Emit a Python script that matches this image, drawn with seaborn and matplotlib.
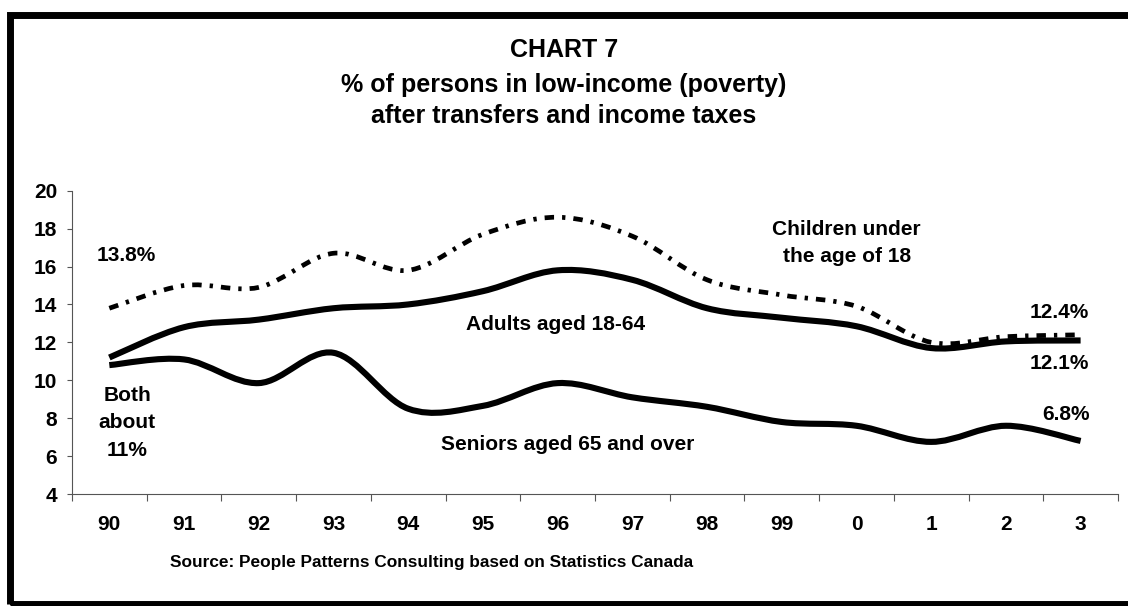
import numpy as np
import matplotlib
matplotlib.use("Agg")
import matplotlib.pyplot as plt
import seaborn as sns
from matplotlib.path import Path
from matplotlib.patches import PathPatch, Rectangle
from matplotlib.ticker import FixedLocator

# data
years = ['90', '91', '92', '93', '94', '95', '96', '97', '98', '99', '0', '1', '2', '3']
children = [13.8, 15.0, 14.9, 16.7, 15.8, 17.7, 18.6, 17.6, 15.3, 14.5, 13.9, 12.0, 12.3, 12.4]
adults = [11.2, 12.8, 13.2, 13.8, 14.0, 14.7, 15.8, 15.3, 13.8, 13.3, 12.85, 11.7, 12.05, 12.1]
seniors = [10.8, 11.1, 9.85, 11.45, 8.5, 8.65, 9.85, 9.1, 8.6, 7.8, 7.6, 6.75, 7.6, 6.8]
y_ticks = [4, 6, 8, 10, 12, 14, 16, 18, 20]

sns.set_theme(style="white")
plt.rcParams['font.family'] = ['Liberation Sans', 'DejaVu Sans']
plt.rcParams['font.weight'] = 'bold'
plt.rcParams['text.color'] = 'black'
plt.rcParams['xtick.labelcolor'] = 'black'
plt.rcParams['ytick.labelcolor'] = 'black'

fig = plt.figure(figsize=(11.28, 6.06), dpi=100)
ax = fig.add_axes([0.0638, 0.1848, 0.9273, 0.5005])
x = np.arange(len(years))


def smooth_line(ax, line, lw, ls):
    # Excel style smoothed line: redraw seaborn's polyline as Catmull-Rom beziers
    xy = line.get_xydata()
    pts = np.vstack([xy[0], xy, xy[-1]])
    verts = [xy[0]]
    codes = [Path.MOVETO]
    for i in range(1, len(pts) - 2):
        p0, p1, p2, p3 = pts[i - 1], pts[i], pts[i + 1], pts[i + 2]
        verts += [p1 + (p2 - p0) / 6, p2 - (p3 - p1) / 6, p2]
        codes += [Path.CURVE4] * 3
    patch = PathPatch(Path(verts, codes), fill=False, edgecolor='black',
                      lw=lw, linestyle=ls, capstyle='butt', joinstyle='round')
    ax.add_patch(patch)
    line.remove()


for vals, lw, ls in [(children, 3.4, (0, (2.0, 1.7, 0.7, 1.7))),
                     (adults, 4.4, '-'),
                     (seniors, 4.4, '-')]:
    sns.lineplot(x=x, y=vals, ax=ax, color='black', lw=lw)
    smooth_line(ax, ax.lines[-1], lw, ls)

ax.set_xlim(-0.5, len(years) - 0.5)
ax.set_ylim(4, 20)
ax.set_yticks(y_ticks)
ax.set_yticklabels([str(v) for v in y_ticks])
ax.xaxis.set_major_locator(FixedLocator(np.arange(-0.5, len(years), 1.0)))
ax.xaxis.set_major_formatter(plt.NullFormatter())
ax.set_xticks(x, minor=True)
ax.set_xticklabels(years, minor=True)
ax.tick_params(axis='x', which='major', direction='out', length=5, width=0.8,
               color='#555555', bottom=True)
ax.tick_params(axis='x', which='minor', length=0, pad=15, labelsize=15)
ax.tick_params(axis='y', direction='out', length=3.6, width=0.8, color='#555555',
               left=True, pad=7, labelsize=15)
for lab in ax.get_xticklabels(minor=True) + ax.get_yticklabels():
    lab.set_fontweight('bold')
sns.despine(ax=ax)
for s in ['left', 'bottom']:
    ax.spines[s].set_color('#555555')
    ax.spines[s].set_linewidth(0.8)
ax.grid(False)
ax.set_xlabel('')
ax.set_ylabel('')

# annotations
kw = dict(ha='center', va='center', fontsize=15, fontweight='bold')
ax.text(0.22, 16.6, '13.8%', **kw)
ax.text(0.24, 7.75, 'Both\nabout\n11%', linespacing=1.55, **kw)
ax.text(5.97, 12.92, 'Adults aged 18-64', **kw)
ax.text(6.13, 6.59, 'Seniors aged 65 and over', **kw)
ax.text(9.87, 17.24, 'Children under\nthe age of 18', linespacing=1.55, **kw)
ax.text(12.71, 13.55, '12.4%', **kw)
ax.text(12.71, 10.86, '12.1%', **kw)
ax.text(12.81, 8.17, '6.8%', **kw)

# title
tkw = dict(ha='center', va='baseline', fontsize=18, fontweight='bold')
fig.text(0.5, 0.9054, 'CHART 7', **tkw)
fig.text(0.5, 0.8487, '% of persons in low-income (poverty)', **tkw)
fig.text(0.5, 0.7975, 'after transfers and income taxes', **tkw)

fig.text(0.1507, 0.0649, 'Source: People Patterns Consulting based on Statistics Canada',
         ha='left', va='baseline', fontsize=12.4, fontweight='bold')

# thick frame around the chart
fig.patches.append(Rectangle((0.0093, 0.0041), 1.05, 0.976 - 0.0041, transform=fig.transFigure,
                             fill=False, edgecolor='black', lw=5, clip_on=False))

fig.savefig('out.png', dpi=100)
